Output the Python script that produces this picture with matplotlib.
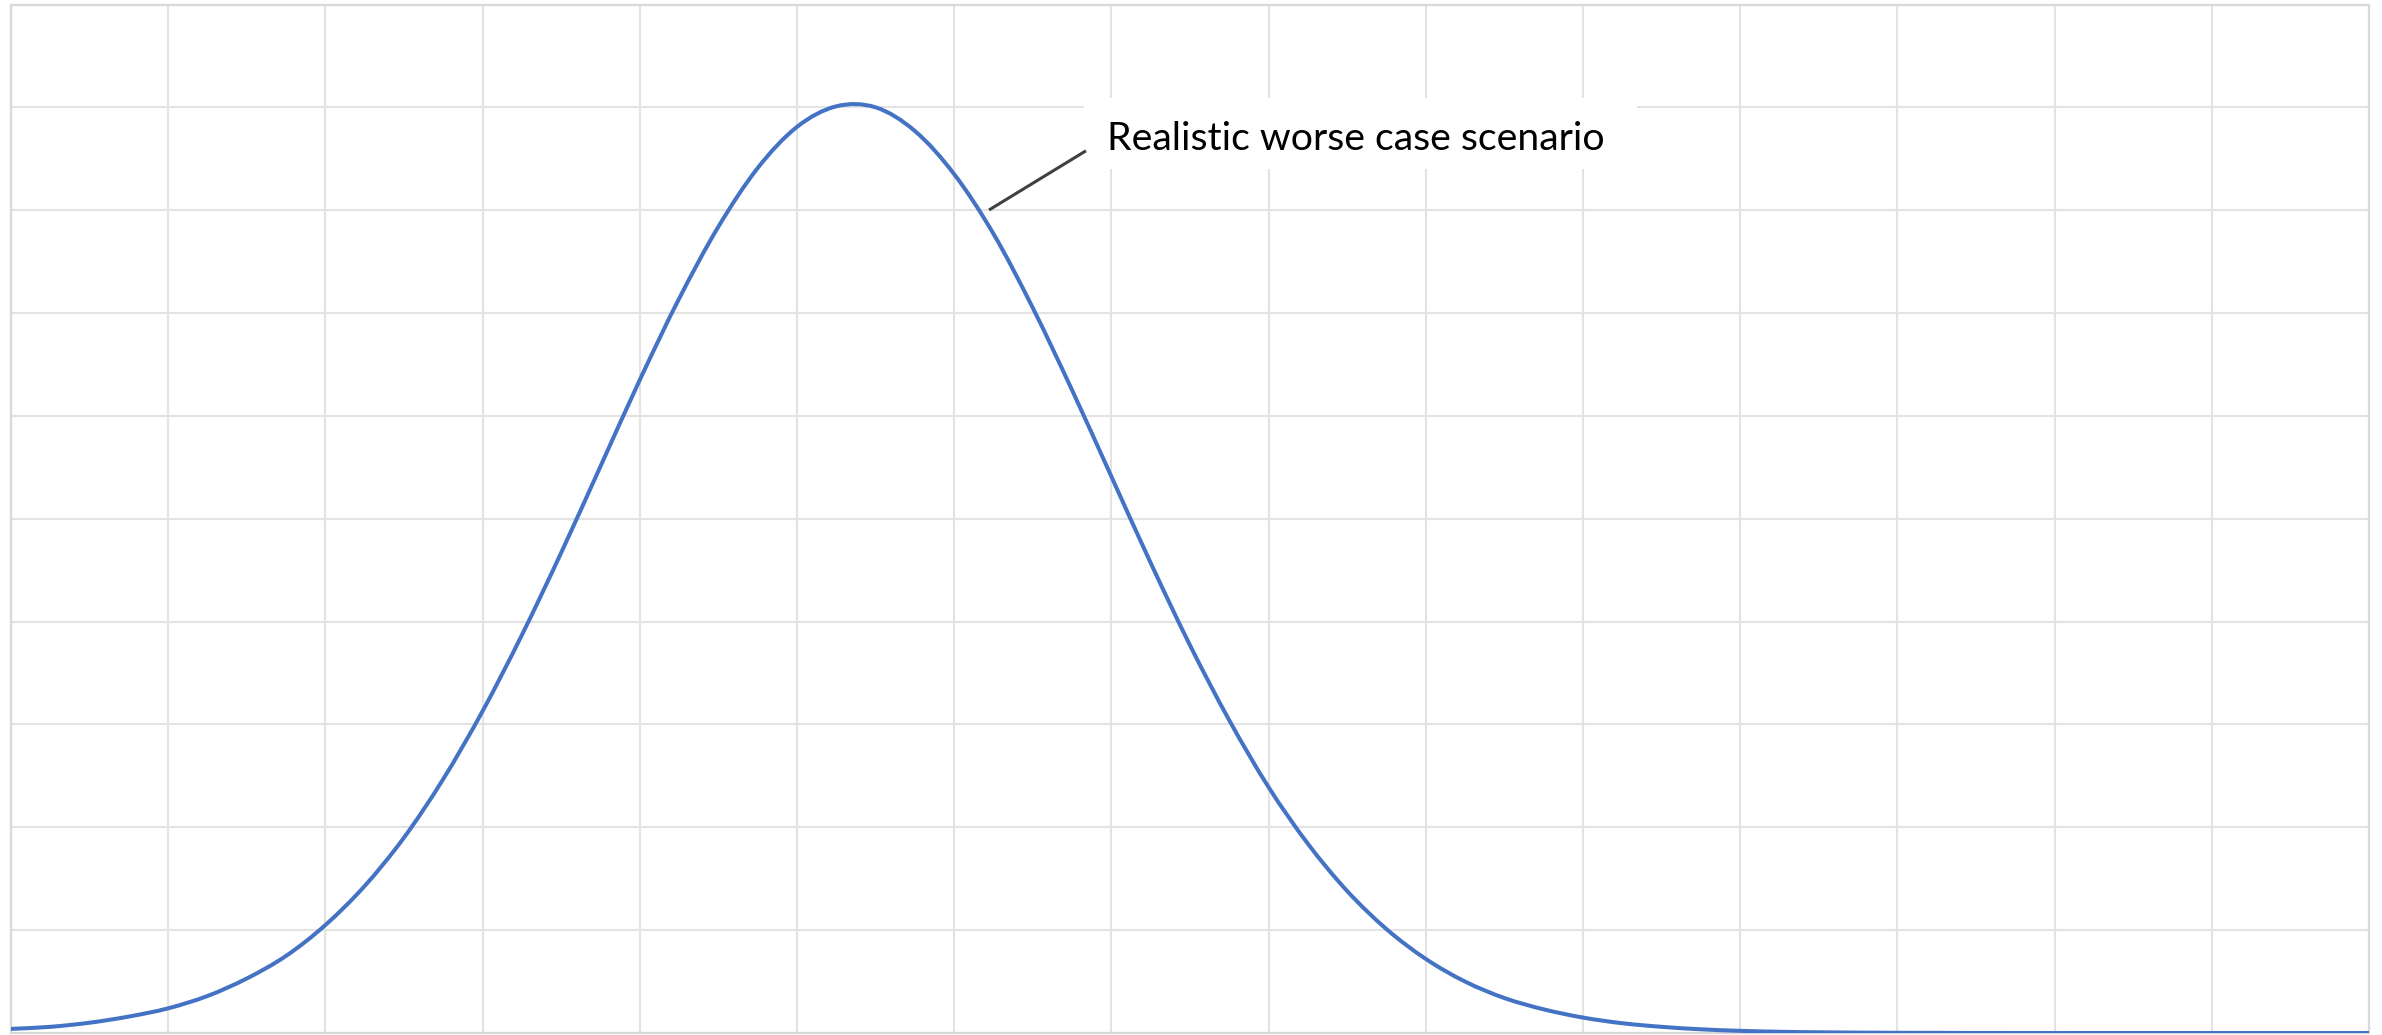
import numpy as np
import matplotlib
matplotlib.use('Agg')
import matplotlib.pyplot as plt
from matplotlib.patches import Rectangle, PathPatch
from matplotlib.path import Path

# curve (x in grid columns, y in grid rows)
xs = [0.00, 0.25, 0.50, 0.75, 1.00, 1.25, 1.50, 1.75, 2.00, 2.25,
      2.50, 2.75, 3.00, 3.25, 3.50, 3.75, 4.00, 4.25, 4.50, 4.75,
      5.00, 5.25, 5.50, 5.75, 6.00, 6.25, 6.50, 6.75, 7.00,
      7.25, 7.50, 7.75, 8.00, 8.25, 8.50, 8.75, 9.00, 9.25, 9.50,
      9.75, 10.00, 10.25, 10.50, 10.75, 11.00, 11.25, 11.50, 12.00,
      13.00, 14.00, 15.00]
ys = [0.04, 0.06, 0.10, 0.16, 0.24, 0.36, 0.53, 0.75, 1.05, 1.43,
      1.90, 2.47, 3.13, 3.87, 4.67, 5.51, 6.35, 7.14, 7.84, 8.41,
      8.81, 9.01, 9.00, 8.77, 8.35, 7.77, 7.05, 6.25, 5.41,
      4.57, 3.77, 3.04, 2.39, 1.84, 1.38, 1.01, 0.72, 0.50, 0.34,
      0.23, 0.15, 0.095, 0.06, 0.036, 0.021, 0.012, 0.007, 0.002,
      0.0, 0.0, 0.0]

label = 'Realistic worse case scenario'
pointer_from = (6.23, 8.01)
pointer_to = (6.83, 8.57)
label_at = (6.975, 8.59)


def smooth_path(x, y):
    # cubic hermite segments through the points, like a smoothed line
    x = np.asarray(x, float)
    y = np.asarray(y, float)
    n = len(x)
    m = np.zeros(n)
    m[1:-1] = (y[2:] - y[:-2]) / (x[2:] - x[:-2])
    m[0] = (y[1] - y[0]) / (x[1] - x[0])
    m[-1] = (y[-1] - y[-2]) / (x[-1] - x[-2])
    verts = [(x[0], y[0])]
    codes = [Path.MOVETO]
    for i in range(n - 1):
        h = x[i + 1] - x[i]
        verts += [(x[i] + h / 3, y[i] + m[i] * h / 3),
                  (x[i + 1] - h / 3, y[i + 1] - m[i + 1] * h / 3),
                  (x[i + 1], y[i + 1])]
        codes += [Path.CURVE4] * 3
    return Path(verts, codes)


fig = plt.figure(figsize=(23.82, 10.35), dpi=100)
ax = fig.add_axes([11/2382, 2/1035, 2358/2382, 1028.5/1035])

ax.set_xlim(0, 15)
ax.set_ylim(0, 10)
ax.set_xticks(np.arange(0, 16, 1))
ax.set_yticks(np.arange(0, 11, 1))
ax.tick_params(length=0, labelbottom=False, labelleft=False)
ax.grid(True, color='#e3e3e3', linewidth=1.5, zorder=0)
ax.set_axisbelow(True)
for s in ax.spines.values():
    s.set_color('#d9d9d9')
    s.set_linewidth(1.6)

ax.add_patch(PathPatch(smooth_path(xs, ys), facecolor='none',
                       edgecolor='#4472C4', linewidth=2.9, zorder=3,
                       capstyle='round'))

# white label box hiding grid
ax.add_patch(Rectangle((6.826, 8.40), 3.52, 0.69, facecolor='white',
                       edgecolor='none', zorder=2))
ax.plot([pointer_from[0], pointer_to[0]], [pointer_from[1], pointer_to[1]],
        color='#404040', linewidth=2.2, zorder=3)
ax.text(label_at[0], label_at[1], label, fontsize=28.3, family='Lato',
        va='baseline', ha='left', color='black', zorder=4)

fig.savefig('out.png', dpi=100, facecolor='white')
